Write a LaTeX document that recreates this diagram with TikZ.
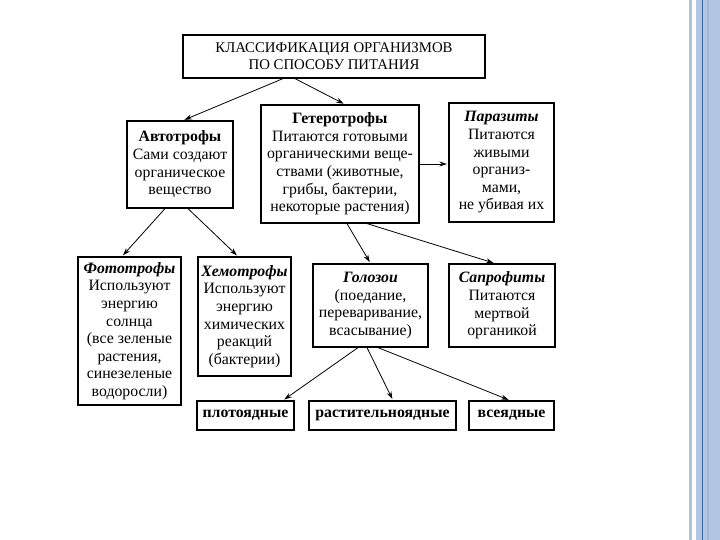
\documentclass[tikz,border=0pt]{standalone}
\usepackage{fontspec}
\setmainfont{Liberation Serif}
\usetikzlibrary{arrows.meta}
\definecolor{stripgrey}{HTML}{B9C1CD}
\definecolor{stripblue}{HTML}{B3C6E3}
\definecolor{stripband}{HTML}{A3B5D4}
\definecolor{stripline}{HTML}{3B6AA0}
\begin{document}
\begin{tikzpicture}[x=1pt,y=-1pt,
    box/.style={draw,line width=1.2pt,align=center,inner sep=0pt,
        font=\fontsize{15.8}{17.6}\selectfont},
    arr/.style={->,line width=0.8pt,shorten >=1.5pt},
    >={Stealth[length=7.5pt,width=5pt]}]
        \useasboundingbox (0,0) rectangle (720,540);
        \fill[stripgrey] (689,0) rectangle (692,540);
        \fill[stripblue] (696,0) rectangle (720,540);
        \fill[stripband] (707,0) rectangle (709,540);
        \draw[stripline,line width=0.8pt] (702,0) -- (702,540);
        \node[box,minimum width=302,minimum height=43,font=\fontsize{14.8}{17}\selectfont] (title) at (334,56.5)
            {КЛАССИФИКАЦИЯ ОРГАНИЗМОВ\\ПО СПОСОБУ ПИТАНИЯ};
        \node[box,minimum width=106,minimum height=87] (auto) at (180,164.5)
            {\textbf{Автотрофы}\\Сами создают\\органическое\\вещество};
        \node[box,minimum width=158,minimum height=118] (hetero) at (340,164)
            {\textbf{Гетеротрофы}\\Питаются готовыми\\органическими веще-\\ствами (животные,\\грибы, бактерии,\\некоторые растения)};
        \node[box,minimum width=105,minimum height=119] (paras) at (501.5,162.5)
            {\textbf{\textit{Паразиты}}\\Питаются\\живыми\\организ-\\мами,\\не убивая их};
        \node[box,minimum width=103,minimum height=148] (photo) at (129.5,331)
            {\textbf{\textit{Фототрофы}}\\Используют\\энергию\\солнца\\(все зеленые\\растения,\\синезеленые\\водоросли)};
        \node[box,minimum width=93,minimum height=119] (chemo) at (244.5,316.5)
            {\textbf{\textit{Хемотрофы}}\\Используют\\энергию\\химических\\реакций\\(бактерии)};
        \node[box,minimum width=115,minimum height=83] (holo) at (370.5,305.5)
            {\textbf{\textit{Голозои}}\\(поедание,\\переваривание,\\всасывание)};
        \node[box,minimum width=106,minimum height=83] (sapro) at (502,305.5)
            {\textbf{\textit{Сапрофиты}}\\Питаются\\мертвой\\органикой};
        \node[box,minimum width=97,minimum height=29] (carn) at (245.5,415.5) {\textbf{плотоядные}};
        \node[box,minimum width=147,minimum height=29] (herb) at (382.5,415.5) {\textbf{растительноядные}};
        \node[box,minimum width=85,minimum height=29] (omni) at (511.5,415.5) {\textbf{всеядные}};
        \draw[arr] ([xshift=-51]title.south) -- ([xshift=3]auto.north);
        \draw[arr] ([xshift=-39]title.south) -- ([xshift=5]hetero.north);
        \draw[arr] ([xshift=-15]auto.south) -- ([xshift=-7.5]photo.north);
        \draw[arr] ([xshift=8]auto.south) -- ([xshift=-6.5]chemo.north);
        \draw[arr] (hetero.east) -- (hetero.east -| paras.west);
        \draw[arr] ([xshift=7]hetero.south) -- (holo.north);
        \draw[arr] ([xshift=27]hetero.south) -- ([xshift=-7]sapro.north);
        \draw[arr] ([xshift=-12.5]holo.south) -- ([xshift=37.5]carn.north);
        \draw[arr] ([xshift=-3.5]holo.south) -- ([xshift=10.5]herb.north);
        \draw[arr] ([xshift=7.5]holo.south) -- ([xshift=-1.5]omni.north);
    \end{tikzpicture}
\end{document}
